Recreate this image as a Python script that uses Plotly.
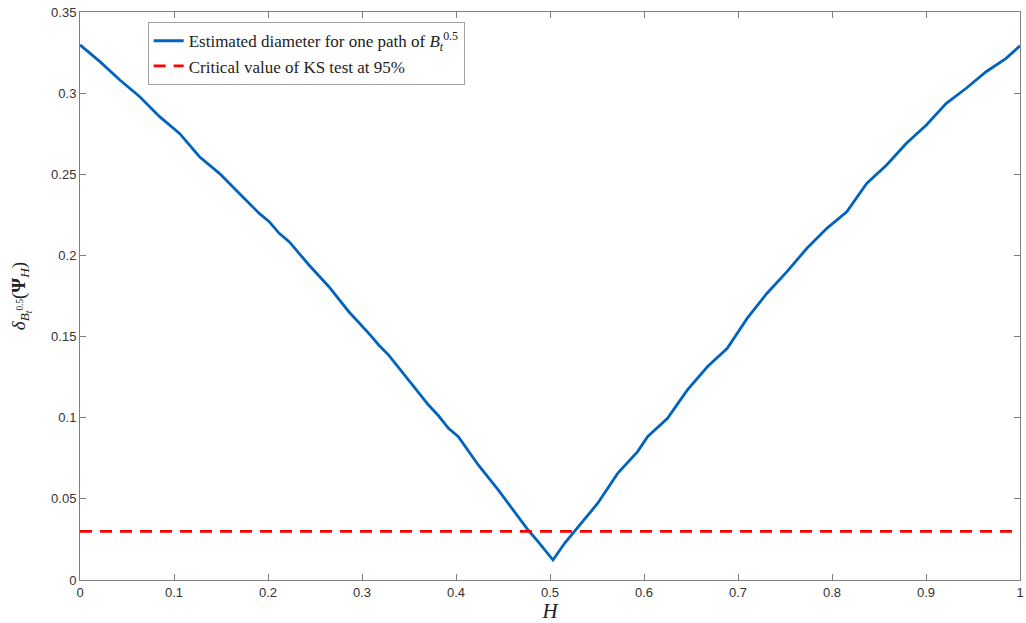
import plotly.graph_objects as go

H = [0.0, 0.0212, 0.0424, 0.0636, 0.0847, 0.1059, 0.1271, 0.1483, 0.173, 0.1907,
     0.2013, 0.2119, 0.2225, 0.2436, 0.2648, 0.286, 0.3072, 0.3178, 0.3284, 0.3496,
     0.3708, 0.3814, 0.392, 0.4025, 0.4237, 0.4449, 0.4661, 0.4767, 0.4873, 0.5032,
     0.5155, 0.5297, 0.5508, 0.572, 0.5861, 0.5932, 0.6038, 0.625, 0.6462, 0.6674,
     0.6886, 0.7097, 0.7309, 0.7521, 0.7733, 0.7945, 0.8157, 0.8369, 0.8581, 0.8792,
     0.9004, 0.9216, 0.9428, 0.964, 0.9852, 1.0]
delta = [0.3297, 0.3194, 0.3081, 0.2978, 0.2855, 0.2752, 0.2608, 0.2506, 0.2362, 0.2259,
         0.2208, 0.2136, 0.2085, 0.1941, 0.1807, 0.1653, 0.152, 0.1448, 0.1386, 0.1232,
         0.1078, 0.1012, 0.0935, 0.0883, 0.0709, 0.0555, 0.039, 0.0308, 0.0236, 0.0123,
         0.0226, 0.0328, 0.0473, 0.0657, 0.075, 0.0791, 0.0883, 0.0996, 0.1171, 0.1314,
         0.1428, 0.1612, 0.1767, 0.19, 0.2044, 0.2167, 0.2269, 0.2444, 0.2557, 0.2691,
         0.2804, 0.2937, 0.303, 0.3132, 0.3214, 0.3292]
crit_H = [0.0, 1.0]
crit_val = [0.03, 0.03]

x_ticks = [0, 0.1, 0.2, 0.3, 0.4, 0.5, 0.6, 0.7, 0.8, 0.9, 1]
x_labels = ["0", "0.1", "0.2", "0.3", "0.4", "0.5", "0.6", "0.7", "0.8", "0.9", "1"]
y_ticks = [0, 0.05, 0.1, 0.15, 0.2, 0.25, 0.3, 0.35]
y_labels = ["0", "0.05", "0.1", "0.15", "0.2", "0.25", "0.3", "0.35"]

serif = "Liberation Serif, DejaVu Serif, serif"
sans = "Liberation Sans, Arial, sans-serif"

fig = go.Figure()
fig.add_trace(go.Scatter(
    x=H, y=delta, mode="lines",
    line=dict(color="#0064BD", width=2.8),
    name="Estimated diameter for one path of <i>B</i><sub><i>t</i></sub><sup>0.5</sup>",
))
fig.add_trace(go.Scatter(
    x=crit_H, y=crit_val, mode="lines",
    line=dict(color="#FF0000", width=2.8, dash="12px,8px"),
    name="Critical value of KS test at 95%",
))

axis_common = dict(
    showgrid=False, zeroline=False, showline=True, mirror="ticks",
    linecolor="#7f7f7f", linewidth=1, ticks="inside", ticklen=6,
    tickcolor="#7f7f7f", tickfont=dict(family=sans, size=13, color="#333333"),
    ticklabeloverflow="allow",
)
fig.update_layout(
    width=1026, height=623,
    margin=dict(l=80, r=2, t=12, b=43),
    paper_bgcolor="white", plot_bgcolor="white",
    showlegend=True,
    legend=dict(
        x=0.072, y=0.982, xanchor="left", yanchor="top",
        bgcolor="white", bordercolor="#a0a0a0", borderwidth=1,
        font=dict(family=serif, size=17, color="#222222"),
        tracegroupgap=0, itemwidth=30,
    ),
    xaxis=dict(range=[0, 1], tickvals=x_ticks, ticktext=x_labels,
               title=dict(text="<i>H</i>", font=dict(family=serif, size=21, color="#222222"), standoff=0),
               **axis_common),
    yaxis=dict(range=[0, 0.35], tickvals=y_ticks, ticktext=y_labels,
               title=dict(text="<i>δ</i><sub><i>B</i><sub><i>t</i></sub><sup>0.5</sup></sub>(<b>Ψ</b><sub><i>H</i></sub>)",
                          font=dict(family=serif, size=19, color="#222222"), standoff=20),
               **axis_common),
)

fig.write_html("out.html")
